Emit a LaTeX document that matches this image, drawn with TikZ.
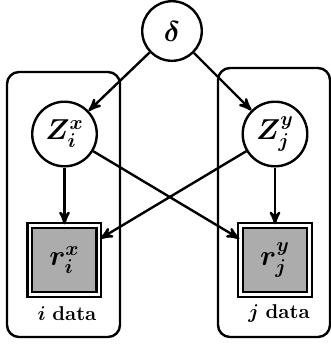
\documentclass[tikz,border=0pt]{standalone}
\usepackage{amsmath}
\usepackage{bm}
\usepackage{tikz}
\usetikzlibrary{arrows}

\begin{document}
\begin{tikzpicture}[
  x=0.5pt, y=-0.5pt,
  line width=1.2pt,
  >=stealth',
  latent/.style={draw, circle, inner sep=0pt, font=\Large},
  obs/.style={draw, double=white, double distance=1.1pt, fill=gray!65,
    minimum size=34.5pt, inner sep=0pt, font=\Large},
  plate/.style={draw, rounded corners=6pt, inner sep=0pt},
]
\useasboundingbox (0,0) rectangle (331,345);

% plates
\node (plateI) [plate, minimum width=56.5pt, minimum height=132.5pt] at (63.5,204.5) {};
\node (plateJ) [plate, minimum width=56pt, minimum height=134.5pt] at (274,202.5) {};
\node (lblI) at (67,314) {$\bm{i}$ \textbf{data}};
\node (lblJ) at (279,314) {$\bm{j}$ \textbf{data}};

% variables
\node (delta) [latent, minimum size=29.8pt] at (172,31) {$\bm{\delta}$};
\node (zx) [latent, minimum size=32.3pt] at (64.5,134) {$\bm{Z_i^x}$};
\node (zy) [latent, minimum size=32.3pt] at (275,134) {$\bm{Z_j^y}$};
\node (rx) [obs] at (64.5,260) {$\bm{r_i^x}$};
\node (ry) [obs] at (275,260) {$\bm{r_j^y}$};

\draw [->] (delta) -- (zx);
\draw [->] (delta) -- (zy);
\draw [->] (zx) -- (rx);
\draw [->] (zy) -- (ry);
\draw [->] (zx) -- (ry);
\draw [->] (zy) -- (rx);

\end{tikzpicture}
\end{document}
